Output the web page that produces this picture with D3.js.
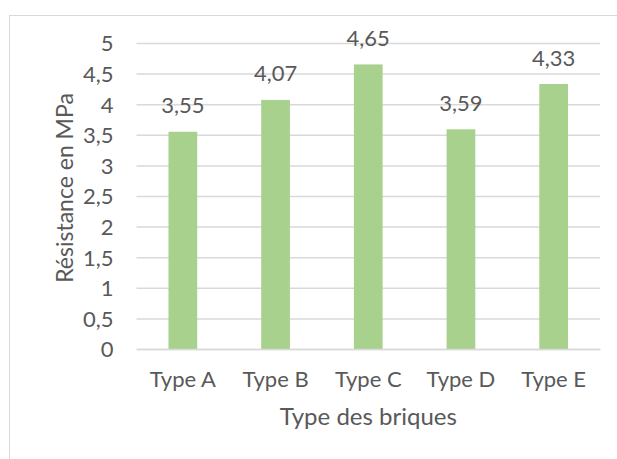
<!DOCTYPE html>
<html lang="fr">
<head>
  <meta charset="utf-8">
  <title>Résistance des briques</title>
  <script src="https://cdn.jsdelivr.net/npm/d3@7"></script>
  <style type="text/css">
    body { margin: 0; background: #fff; }
    svg { display: block; font-family: Lato, "Open Sans", sans-serif; }
    .grid line { stroke: #d9d9d9; stroke-width: 1.5; }
    text { fill: #595959; }
  </style>
</head>
<body>
<svg id="chart" width="617" height="459"></svg>

<script type="text/javascript">

// data
var categories = ["Type A", "Type B", "Type C", "Type D", "Type E"];
var values = [3.55, 4.07, 4.65, 3.59, 4.33];
var yTicks = [0, 0.5, 1, 1.5, 2, 2.5, 3, 3.5, 4, 4.5, 5];
var yTitle = "Résistance en MPa";
var xTitle = "Type des briques";

// french number format (comma decimal)
var fr = d3.formatLocale({decimal: ",", thousands: " ", grouping: [3], currency: ["", " €"]});
var tickFmt = fr.format(".1~f"),
    labelFmt = fr.format(".2f");

var svg = d3.select("#chart");

// chart border (runs off the right and bottom)
svg.append("rect")
  .attr("x", 9.5).attr("y", 15.5)
  .attr("width", 700).attr("height", 500)
  .attr("fill", "none")
  .attr("stroke", "#d9d9d9");

var plotLeft = 136.5, plotRight = 600, plotTop = 43, plotBottom = 349;

var x = d3.scaleBand()
  .domain(categories)
  .range([plotLeft, plotRight])
  .paddingInner(0.69)
  .paddingOuter(0.345);

var y = d3.scaleLinear()
  .domain([0, 5])
  .range([plotBottom, plotTop]);

// gridlines + y labels
var yAxis = svg.append("g")
  .attr("class", "grid")
  .attr("transform", "translate(" + plotLeft + ",0)")
  .call(d3.axisLeft(y).tickValues(yTicks).tickFormat(tickFmt).tickSize(-(plotRight - plotLeft)).tickPadding(23));

yAxis.select(".domain").remove();
yAxis.selectAll("text")
  .attr("font-size", 22)
  .attr("font-family", "Lato")
  .attr("fill", "#595959")
  .attr("dy", "0.36em");

// bars
svg.append("g").selectAll("rect")
  .data(values)
  .join("rect")
  .attr("x", function(d, i) { return x(categories[i]); })
  .attr("y", function(d) { return y(d); })
  .attr("width", x.bandwidth())
  .attr("height", function(d) { return y(0) - y(d); })
  .attr("fill", "#a9d18e");

// value labels
svg.append("g").selectAll("text")
  .data(values)
  .join("text")
  .attr("x", function(d, i) { return x(categories[i]) + x.bandwidth() / 2; })
  .attr("y", function(d) { return y(d) - 18.5; })
  .attr("text-anchor", "middle")
  .attr("font-size", 22)
  .text(function(d) { return labelFmt(d); });

// x axis (zero line + category labels)
var xAxis = svg.append("g")
  .attr("transform", "translate(0," + plotBottom + ")")
  .call(d3.axisBottom(x).tickSize(0).tickPadding(0).tickSizeOuter(0));

xAxis.select(".domain")
  .attr("stroke", "#d9d9d9")
  .attr("stroke-width", 1.5);
xAxis.selectAll("text")
  .attr("font-size", 22)
  .attr("font-family", "Lato")
  .attr("fill", "#595959")
  .attr("y", 38)
  .attr("dy", null);

// axis titles
svg.append("text")
  .attr("x", (plotLeft + plotRight) / 2)
  .attr("y", 425)
  .attr("text-anchor", "middle")
  .attr("font-size", 24)
  .text(xTitle);

svg.append("text")
  .attr("transform", "translate(73,188) rotate(-90)")
  .attr("text-anchor", "middle")
  .attr("font-size", 23)
  .text(yTitle);

</script>
</body>
</html>
